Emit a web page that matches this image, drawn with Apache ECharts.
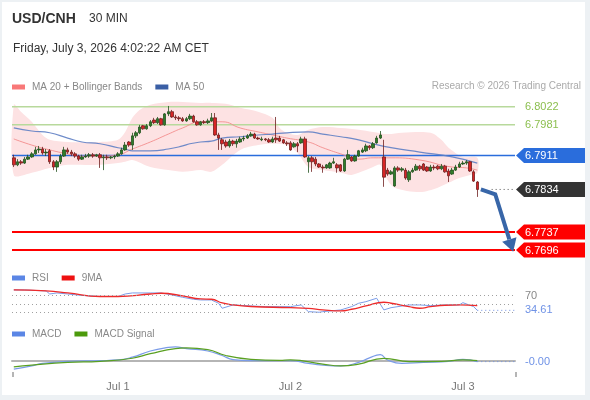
<!DOCTYPE html>
<html>
<head>
<meta charset="utf-8">
<script src="https://cdn.jsdelivr.net/npm/echarts@6.0.0/dist/echarts.min.js"></script>
<style>
  html, body { margin: 0; padding: 0; background: #edf1f4; }
  #card { position: absolute; left: 2px; top: 2px; width: 583px; height: 393px; background: #fff; }
  #main { position: absolute; left: 0; top: 0; width: 590px; height: 400px; }
</style>
</head>
<body>
<div id="card"></div>
<div id="main"></div>
<script>
var FONT = '"Liberation Sans", Arial, sans-serif';

// 30 min slots, first one is Jun 30 09:30, the last 10 are left empty for the forecast
var slotCount = 140;
var firstSlotTime = Date.UTC(2026, 5, 30, 9, 30);
var categories = [];
for (var i = 0; i < slotCount; i++) {
  categories.push(new Date(firstSlotTime + i * 1800000).toISOString().slice(5, 16));
}
var dayTickSlots = [29, 77, 125];
var dayTickLabels = ['Jul 1', 'Jul 2', 'Jul 3'];

// candles: [open, close, low, high]
var candles = [
  [6.7906,6.7890,6.7885,6.7913],[6.7890,6.7897,6.7887,6.7903],[6.7897,6.7894,6.7890,6.7901],[6.7894,6.7903,6.7892,6.7908],
  [6.7903,6.7908,6.7901,6.7913],[6.7908,6.7915,6.7906,6.7919],[6.7915,6.7924,6.7913,6.7931],[6.7924,6.7926,6.7917,6.7933],
  [6.7926,6.7917,6.7913,6.7931],[6.7917,6.7919,6.7910,6.7926],[6.7922,6.7897,6.7892,6.7926],[6.7897,6.7885,6.7878,6.7901],
  [6.7885,6.7897,6.7874,6.7901],[6.7897,6.7910,6.7892,6.7915],[6.7910,6.7924,6.7908,6.7931],[6.7924,6.7919,6.7915,6.7929],
  [6.7919,6.7915,6.7910,6.7924],[6.7915,6.7910,6.7906,6.7919],[6.7910,6.7903,6.7899,6.7913],[6.7903,6.7908,6.7901,6.7913],
  [6.7908,6.7910,6.7906,6.7915],[6.7910,6.7913,6.7906,6.7917],[6.7913,6.7910,6.7906,6.7917],[6.7910,6.7913,6.7908,6.7915],
  [6.7913,6.7906,6.7883,6.7917],[6.7906,6.7908,6.7878,6.7913],[6.7908,6.7906,6.7901,6.7913],[6.7906,6.7908,6.7903,6.7910],
  [6.7908,6.7910,6.7903,6.7913],[6.7910,6.7915,6.7908,6.7919],[6.7915,6.7924,6.7913,6.7929],[6.7924,6.7935,6.7922,6.7942],
  [6.7942,6.7935,6.7931,6.7944],[6.7935,6.7956,6.7924,6.7963],[6.7956,6.7963,6.7951,6.7967],[6.7963,6.7976,6.7960,6.7981],
  [6.7979,6.7972,6.7970,6.7981],[6.7972,6.7979,6.7970,6.7983],[6.7979,6.7988,6.7976,6.7992],[6.7992,6.7986,6.7983,6.7997],
  [6.7986,6.7995,6.7983,6.7999],[6.7995,6.7981,6.7979,6.7997],[6.7981,6.8006,6.7979,6.8008],[6.8006,6.8011,6.8001,6.8024],
  [6.8011,6.7999,6.7997,6.8015],[6.7999,6.7997,6.7992,6.8004],[6.7997,6.7995,6.7990,6.8001],[6.7995,6.7990,6.7988,6.7999],
  [6.7990,6.7995,6.7988,6.7999],[6.7995,6.8001,6.7992,6.8006],[6.8001,6.7988,6.7986,6.8004],[6.7988,6.7981,6.7979,6.7992],
  [6.7981,6.7988,6.7979,6.7990],[6.7988,6.7986,6.7983,6.7992],[6.7986,6.7990,6.7983,6.7995],[6.7990,6.7997,6.7988,6.8008],
  [6.7997,6.7958,6.7956,6.8008],[6.7958,6.7951,6.7924,6.7963],[6.7947,6.7938,6.7924,6.7951],[6.7942,6.7933,6.7929,6.7947],
  [6.7933,6.7944,6.7929,6.7949],[6.7944,6.7938,6.7933,6.7947],[6.7938,6.7944,6.7929,6.7949],[6.7942,6.7949,6.7940,6.7954],
  [6.7949,6.7951,6.7944,6.7956],[6.7951,6.7956,6.7949,6.7960],[6.7956,6.7960,6.7954,6.7965],[6.7960,6.7951,6.7949,6.7963],
  [6.7951,6.7949,6.7947,6.7954],[6.7947,6.7949,6.7944,6.7954],[6.7949,6.7947,6.7944,6.7951],[6.7947,6.7942,6.7940,6.7951],
  [6.7942,6.7949,6.7940,6.7954],[6.7951,6.7947,6.7940,6.7999],[6.7951,6.7944,6.7942,6.7956],[6.7947,6.7940,6.7938,6.7949],
  [6.7940,6.7938,6.7933,6.7944],[6.7940,6.7924,6.7922,6.7944],[6.7931,6.7938,6.7929,6.7942],[6.7938,6.7933,6.7919,6.7942],
  [6.7940,6.7949,6.7938,6.7954],[6.7949,6.7908,6.7906,6.7954],[6.7897,6.7906,6.7872,6.7910],[6.7906,6.7897,6.7874,6.7910],
  [6.7903,6.7892,6.7887,6.7908],[6.7892,6.7885,6.7883,6.7894],[6.7885,6.7883,6.7872,6.7890],[6.7883,6.7890,6.7881,6.7892],
  [6.7883,6.7894,6.7881,6.7897],[6.7894,6.7897,6.7892,6.7906],[6.7890,6.7883,6.7872,6.7894],[6.7890,6.7876,6.7874,6.7892],
  [6.7876,6.7903,6.7874,6.7906],[6.7903,6.7913,6.7901,6.7924],[6.7908,6.7899,6.7897,6.7910],[6.7899,6.7910,6.7897,6.7913],
  [6.7910,6.7922,6.7908,6.7924],[6.7919,6.7924,6.7917,6.7929],[6.7922,6.7933,6.7919,6.7938],[6.7933,6.7929,6.7924,6.7935],
  [6.7929,6.7938,6.7926,6.7942],[6.7940,6.7951,6.7938,6.7956],[6.7951,6.7958,6.7949,6.7967],[6.7908,6.7862,6.7840,6.7947],
  [6.7878,6.7869,6.7865,6.7883],[6.7869,6.7874,6.7867,6.7878],[6.7842,6.7883,6.7840,6.7887],[6.7883,6.7878,6.7874,6.7887],
  [6.7878,6.7881,6.7874,6.7885],[6.7878,6.7860,6.7856,6.7883],[6.7856,6.7874,6.7851,6.7878],[6.7874,6.7878,6.7872,6.7883],
  [6.7878,6.7887,6.7876,6.7892],[6.7887,6.7881,6.7876,6.7890],[6.7892,6.7878,6.7876,6.7894],[6.7885,6.7876,6.7874,6.7887],
  [6.7876,6.7885,6.7874,6.7890],[6.7885,6.7883,6.7878,6.7890],[6.7887,6.7881,6.7878,6.7890],[6.7881,6.7887,6.7878,6.7892],
  [6.7887,6.7874,6.7872,6.7890],[6.7876,6.7865,6.7851,6.7881],[6.7869,6.7878,6.7867,6.7883],[6.7878,6.7885,6.7876,6.7890],
  [6.7885,6.7892,6.7883,6.7897],[6.7892,6.7894,6.7890,6.7899],[6.7894,6.7897,6.7890,6.7901],[6.7897,6.7876,6.7874,6.7899],
  [6.7874,6.7853,6.7851,6.7878],[6.7851,6.7834,6.7817,6.7853]
];

// indicator lines, [slot, value]
var ma20 = [[0,6.7949],[5,6.7935],[10,6.7924],[15,6.7915],[19,6.7910],[24,6.7910],[29,6.7913],[33,6.7926],[38,6.7942],
  [43,6.7960],[47,6.7974],[52,6.7988],[58,6.7988],[63,6.7974],[68,6.7965],[72,6.7958],[76,6.7951],[82,6.7942],[86,6.7929],
  [91,6.7915],[96,6.7903],[100,6.7906],[105,6.7906],[113,6.7901],[122,6.7885],[126,6.7883],[129,6.7878]];
var ma50 = [[0,6.7974],[5,6.7967],[10,6.7963],[15,6.7951],[19,6.7942],[24,6.7938],[29,6.7929],[31,6.7926],[33,6.7922],
  [38,6.7922],[43,6.7926],[47,6.7933],[49,6.7938],[52,6.7942],[55,6.7944],[58,6.7951],[63,6.7954],[68,6.7958],[72,6.7960],
  [76,6.7963],[82,6.7965],[86,6.7960],[91,6.7954],[96,6.7947],[100,6.7938],[105,6.7929],[113,6.7919],[122,6.7908],[129,6.7894]];
var upperBand = [[0,6.8027],[2,6.8011],[5,6.7988],[8,6.7958],[10,6.7947],[15,6.7942],[24,6.7942],[29,6.7947],[31,6.7965],
  [33,6.7997],[35,6.8015],[38,6.8027],[43,6.8033],[47,6.8033],[52,6.8031],[55,6.8031],[59,6.8029],[63,6.8020],[68,6.8011],
  [72,6.7997],[74,6.7974],[76,6.7963],[79,6.7958],[82,6.7970],[86,6.7976],[91,6.7974],[96,6.7970],[100,6.7965],[104,6.7960],
  [108,6.7963],[116,6.7963],[119,6.7947],[121,6.7929],[125,6.7908],[129,6.7906]];
var lowerBand = [[0,6.7867],[5,6.7872],[10,6.7883],[15,6.7890],[24,6.7890],[29,6.7894],[31,6.7897],[33,6.7901],[38,6.7885],
  [43,6.7878],[47,6.7874],[52,6.7878],[55,6.7874],[58,6.7890],[63,6.7924],[68,6.7935],[72,6.7938],[76,6.7935],[79,6.7917],
  [82,6.7885],[86,6.7878],[91,6.7872],[94,6.7867],[98,6.7878],[100,6.7885],[102,6.7890],[104,6.7856],[106,6.7838],
  [113,6.7828],[118,6.7838],[121,6.7849],[124,6.7860],[127,6.7867],[129,6.7872]];

var rsi = [[0,83.7],[3,83.7],[6,82.5],[9,81.3],[10,74],[12,76.5],[15,74],[19,70.5],[24,68],[29,68],[31,74],[33,76.5],
  [38,76.5],[41,76.5],[44,71.7],[47,66],[50,61.3],[52,59.6],[55,59.6],[57,51.7],[58,39.6],[61,47.6],[66,45.2],[70,43.5],
  [74,43.5],[77,43.5],[80,47.6],[82,31.4],[85,30],[86,31.4],[91,35.6],[94,43.5],[96,51.7],[98,55.5],[101,63.7],[103,35.6],
  [105,41],[110,47.6],[113,47.6],[116,45.9],[120,47.6],[124,47.6],[125,53.1],[128,43.5],[129,34.61]];
var rsiMa = [[0,83.7],[9,81.3],[15,76.5],[24,68],[29,68],[38,74],[41,75.8],[47,69.3],[52,62],[55,61.3],[58,52.4],[61,47.6],
  [66,43.9],[77,41],[82,39.2],[86,35.6],[91,33.2],[94,37.2],[98,45.2],[103,54.1],[105,51.7],[110,43.5],[113,39.6],
  [116,43.5],[120,46.9],[124,47.6],[129,45.9]];
var rsiLevels = [70, 50, 30];

var macd = [[0,-0.00075],[5,-0.00045],[8,-0.00023],[15,-0.00005],[24,0.00002],[29,0.00008],[33,0.00033],[38,0.00088],
  [43,0.00120],[45,0.00125],[48,0.00110],[54,0.00088],[58,0.00048],[61,0.00011],[66,0.00002],[74,0.00002],[77,0.00002],
  [82,-0.00023],[86,-0.00038],[91,-0.00045],[96,-0.00014],[99,0.00027],[102,0.00055],[104,0.00008],[108,-0.00023],
  [114,-0.00014],[121,-0.00005],[125,0.00014],[129,-0.00007]];
var macdSignal = [[0,-0.00054],[5,-0.00038],[15,-0.00014],[24,-0.00005],[33,0.00023],[38,0.00064],[45,0.00110],[48,0.00116],
  [54,0.00101],[59,0.00048],[66,0.00014],[74,0.00005],[77,0.00008],[86,-0.00029],[91,-0.00045],[96,-0.00029],[103,0.00023],
  [110,-0.00007],[119,-0.00005],[125,0.00008],[129,0.00002]];

// key levels on the right
var levelPrices = [6.8022, 6.7981, 6.7911, 6.7834, 6.7737, 6.7696];
var levelKinds = ['resistance', 'resistance', 'ma', 'last', 'support', 'support'];

// forecast arrow, [slot, price]
var forecastPath = [[129.7, 6.7834], [134.2, 6.7823], [138.6, 6.7692]];

var lastSlot = candles.length - 1;

var levelStyle = {
  resistance: { line: '#b8d99c', width: 1.5, text: '#8cbf4f' },
  ma: { line: '#2a6ddc', width: 1.5, tag: '#2a6ddc', text: '#fff' },
  last: { line: '#555', width: 1, dash: [1, 3], tag: '#333', text: '#fff' },
  support: { line: '#ff0000', width: 2, tag: '#ff0000', text: '#fff' }
};

function tagText(text, x, y, color, bg) {
  var st = { text: text, x: x, y: y, fill: color, font: '11px ' + FONT, align: 'left', verticalAlign: 'middle' };
  if (bg) { st.backgroundColor = bg; st.padding = [1, 2, 1, 0]; }
  return { type: 'text', style: st };
}

function renderLevel(params, api) {
  var cs = params.coordSys;
  var price = api.value(1);
  var st = levelStyle[levelKinds[params.dataIndex]];
  var y = api.coord([0, price])[1];
  var right = cs.x + cs.width;
  var x0 = levelKinds[params.dataIndex] === 'last' ? api.coord([lastSlot + 3.5, price])[0] : cs.x;
  var children = [{
    type: 'line',
    shape: { x1: x0, y1: y, x2: right, y2: y },
    style: { stroke: st.line, lineWidth: st.width, lineDash: st.dash || null }
  }];
  if (st.tag) {
    children.push({
      type: 'polygon',
      shape: { points: [[right + 1, y], [right + 9, y - 7.5], [585, y - 7.5], [585, y + 7.5], [right + 9, y + 7.5]] },
      style: { fill: st.tag }
    });
  }
  children.push(tagText(price.toFixed(4), right + 10, y + 0.5, st.text));
  return { type: 'group', children: children };
}

function renderBand(params, api) {
  var pts = upperBand.map(function (p) { return api.coord(p); });
  lowerBand.slice().reverse().forEach(function (p) { pts.push(api.coord(p)); });
  return { type: 'polygon', shape: { points: pts, smooth: 0.3 }, style: { fill: '#fde2e3' } };
}

function renderForecast(params, api) {
  var pts = forecastPath.map(function (p) { return api.coord(p); });
  var tip = pts[pts.length - 1], prev = pts[pts.length - 2];
  var dx = tip[0] - prev[0], dy = tip[1] - prev[1];
  var len = Math.sqrt(dx * dx + dy * dy);
  var ux = dx / len, uy = dy / len;
  var base = [tip[0] - ux * 13, tip[1] - uy * 13];
  var head = [tip, [base[0] - uy * 7.5, base[1] + ux * 7.5], [base[0] + uy * 7.5, base[1] - ux * 7.5]];
  return {
    type: 'group',
    children: [
      { type: 'polyline', shape: { points: pts.slice(0, -1).concat([base]) }, style: { stroke: '#3866a8', lineWidth: 4, fill: null } },
      { type: 'polygon', shape: { points: head }, style: { fill: '#3866a8' } }
    ]
  };
}

// small value tags of the RSI / MACD panels
function sideTag(color, digits, withLine) {
  return function (params, api) {
    var cs = params.coordSys;
    var v = api.value(1);
    var y = api.coord([0, v])[1];
    var right = cs.x + cs.width;
    var children = [];
    if (withLine) {
      var x0 = api.coord([lastSlot, v])[0];
      children.push({ type: 'line', shape: { x1: x0, y1: y, x2: right + 2, y2: y }, style: { stroke: color, lineWidth: 1, lineDash: [1, 3] } });
    }
    children.push(tagText(digits == null ? String(v) : v.toFixed(digits), right + 10, y, color, withLine ? '#fff' : null));
    return { type: 'group', children: children };
  };
}

// end ticks of the time axis
function renderAxisEnds(params) {
  var cs = params.coordSys;
  var yb = cs.y + cs.height;
  var st = { stroke: '#b5b5b5', lineWidth: 2 };
  return { type: 'group', children: [
    { type: 'line', shape: { x1: cs.x + 1, y1: yb, x2: cs.x + 1, y2: yb + 5 }, style: st },
    { type: 'line', shape: { x1: cs.x + cs.width + 1, y1: yb, x2: cs.x + cs.width + 1, y2: yb + 5 }, style: st }
  ] };
}

var rsiLast = rsi[rsi.length - 1][1];
var macdLast = macd[macd.length - 1][1];

function xAx(gridIndex, visible) {
  var ax = {
    type: 'category', gridIndex: gridIndex, data: categories, boundaryGap: true,
    axisLine: { show: false }, axisTick: { show: false }, axisLabel: { show: false }, splitLine: { show: false }
  };
  if (visible) {
    ax.axisLine = { show: true, lineStyle: { color: '#b5b5b5', width: 2 } };
    ax.axisLabel = {
      show: true, color: '#777', fontSize: 11, fontFamily: FONT, margin: 9,
      interval: function (idx) { return dayTickSlots.indexOf(idx) >= 0; },
      formatter: function (val, idx) { return dayTickLabels[dayTickSlots.indexOf(idx)]; }
    };
  }
  return ax;
}

var legendBase = {
  left: 12, padding: 0, icon: 'rect', itemWidth: 13, itemHeight: 5, itemGap: 13, selectedMode: false,
  textStyle: { color: '#888', fontSize: 10, fontFamily: FONT, padding: [0, 0, 0, 2] }
};

var chart = echarts.init(document.getElementById('main'));
chart.setOption({
  animation: false,
  backgroundColor: 'transparent',
  graphic: [
    { type: 'text', left: 12, top: 12, style: { text: 'USD/CNH', font: 'bold 14px ' + FONT, fill: '#333' } },
    { type: 'text', left: 89, top: 13, style: { text: '30 MIN', font: '12px ' + FONT, fill: '#333' } },
    { type: 'text', left: 13, top: 43, style: { text: 'Friday, July 3, 2026 4:02:22 AM CET', font: '12px ' + FONT, fill: '#333' } },
    { type: 'text', right: 9, top: 81, style: { text: 'Research \u00a9 2026 Trading Central', font: '10px ' + FONT, fill: '#aaa' } }
  ],
  legend: [
    Object.assign({}, legendBase, { top: 82, data: [
      { name: 'MA 20 + Bollinger Bands', itemStyle: { color: '#f87878' } },
      { name: 'MA 50', itemStyle: { color: '#3a5fa5' } }] }),
    Object.assign({}, legendBase, { top: 273, data: [
      { name: 'RSI', itemStyle: { color: '#5b86e5' } },
      { name: '9MA', itemStyle: { color: '#ee1111' } }] }),
    Object.assign({}, legendBase, { top: 329, data: [
      { name: 'MACD', itemStyle: { color: '#5b86e5' } },
      { name: 'MACD Signal', itemStyle: { color: '#4c9a0c' } }] })
  ],
  grid: [
    { left: 12, top: 95, width: 503, height: 170 },
    { left: 12, top: 283.2, width: 503, height: 41.5 },
    { left: 12, top: 343, width: 503, height: 29 }
  ],
  xAxis: [xAx(0, false), xAx(1, false), xAx(2, true)],
  yAxis: [
    { gridIndex: 0, min: 6.7662, max: 6.8049, show: false },
    { gridIndex: 1, min: 0, max: 100, show: false },
    { gridIndex: 2, min: -0.0010, max: 0.0016, show: false }
  ],
  series: [
    { type: 'custom', name: 'band', xAxisIndex: 0, yAxisIndex: 0, data: [[0, 6.79]], renderItem: renderBand, z: 1, silent: true },
    { type: 'custom', name: 'levels', xAxisIndex: 0, yAxisIndex: 0,
      data: levelPrices.map(function (p) { return [0, p]; }), renderItem: renderLevel, z: 2, silent: true },
    { type: 'line', name: 'MA 20 + Bollinger Bands', xAxisIndex: 0, yAxisIndex: 0, data: ma20, smooth: true,
      symbol: 'none', lineStyle: { color: '#f28888', width: 1, opacity: 0.85 }, itemStyle: { color: '#f87878' }, z: 3 },
    { type: 'line', name: 'MA 50', xAxisIndex: 0, yAxisIndex: 0, data: ma50, smooth: true,
      symbol: 'none', lineStyle: { color: '#5f80c4', width: 1.2, opacity: 0.9 }, itemStyle: { color: '#3a5fa5' }, z: 3 },
    { type: 'candlestick', name: 'USD/CNH', xAxisIndex: 0, yAxisIndex: 0, data: candles, barWidth: 3, z: 4,
      itemStyle: { color: '#2f7d2a', color0: '#d82525', borderColor: '#25521f', borderColor0: '#6e1f1f', borderWidth: 0.8 } },
    { type: 'custom', name: 'forecast', xAxisIndex: 0, yAxisIndex: 0, data: [[0, 6.78]], renderItem: renderForecast, z: 5, silent: true },

    { type: 'line', name: 'RSI', xAxisIndex: 1, yAxisIndex: 1, data: rsi, symbol: 'none',
      lineStyle: { color: '#7b9ce8', width: 1 }, itemStyle: { color: '#5b86e5' }, z: 3,
      markLine: { silent: true, symbol: 'none', label: { show: false },
        lineStyle: { color: '#a0a0a0', type: [1, 3], width: 1 },
        data: rsiLevels.map(function (v) { return { yAxis: v }; }) } },
    { type: 'line', name: '9MA', xAxisIndex: 1, yAxisIndex: 1, data: rsiMa, smooth: true, symbol: 'none',
      lineStyle: { color: '#ee2a2a', width: 1.3 }, itemStyle: { color: '#ee1111' }, z: 3 },
    { type: 'custom', name: 'rsiTag70', xAxisIndex: 1, yAxisIndex: 1, data: [[0, rsiLevels[0]]],
      renderItem: sideTag('#888', null, false), silent: true },
    { type: 'custom', name: 'rsiTag', xAxisIndex: 1, yAxisIndex: 1, data: [[0, rsiLast]],
      renderItem: sideTag('#6f92e6', 2, true), silent: true, z: 4 },

    { type: 'line', name: 'MACD', xAxisIndex: 2, yAxisIndex: 2, data: macd, smooth: true, symbol: 'none',
      lineStyle: { color: '#7b9ce8', width: 1.2 }, itemStyle: { color: '#5b86e5' }, z: 3 },
    { type: 'line', name: 'MACD Signal', xAxisIndex: 2, yAxisIndex: 2, data: macdSignal, smooth: true, symbol: 'none',
      lineStyle: { color: '#5aa021', width: 1.2 }, itemStyle: { color: '#4c9a0c' }, z: 3 },
    { type: 'custom', name: 'macdTag', xAxisIndex: 2, yAxisIndex: 2, data: [[0, macdLast]],
      renderItem: sideTag('#6f92e6', 2, true), silent: true, z: 4 },
    { type: 'custom', name: 'axisEnds', xAxisIndex: 2, yAxisIndex: 2, data: [[0, 0]],
      renderItem: renderAxisEnds, silent: true, z: 4 }
  ]
});
</script>
</body>
</html>
